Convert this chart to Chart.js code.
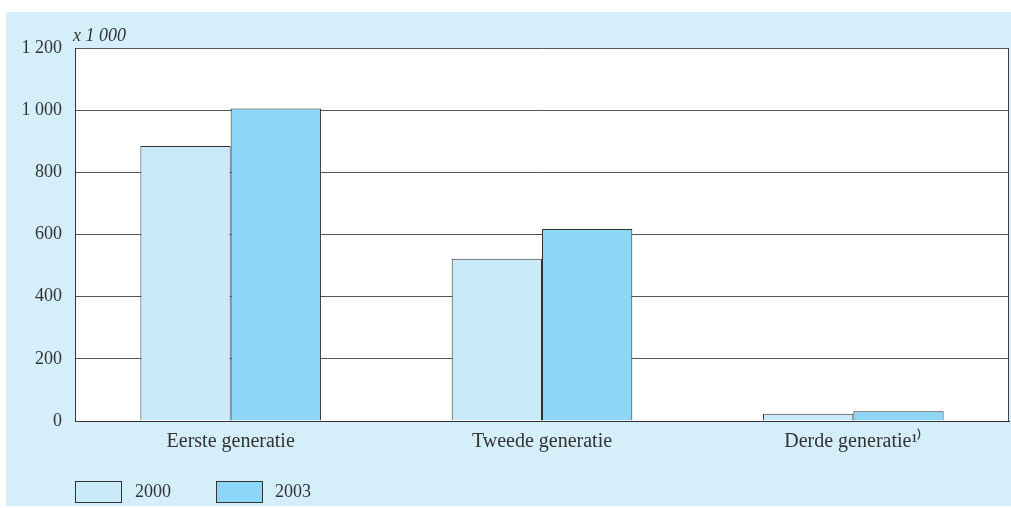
<!DOCTYPE html>
<html>
<head>
<meta charset="utf-8">
<script src="https://cdn.jsdelivr.net/npm/chart.js@4"></script>
<style>
html,body{margin:0;padding:0;background:#fff;}
canvas{display:block;}
</style>
</head>
<body>
<canvas id="c" width="1011" height="508"></canvas>
<script>
const categories = ["Eerste generatie", "Tweede generatie", "Derde generatie¹⁾"];
const values2000 = [885, 522, 23];
const values2003 = [1005, 618, 31];
const seriesNames = ["2000", "2003"];
const unitLabel = "x 1 000";
const colors = ["#c9eaf9", "#8dd6f7"];
const FONT = "'Liberation Serif', serif";

const panelPlugin = {
  id: 'panel',
  beforeDraw(chart) {
    const ctx = chart.ctx, a = chart.chartArea;
    ctx.save();
    ctx.fillStyle = '#d4eefa';
    ctx.fillRect(6, 12, 1011 - 6, 506 - 12);
    ctx.fillStyle = '#ffffff';
    ctx.fillRect(a.left, a.top, a.right - a.left, a.bottom - a.top);
    ctx.restore();
  },
  afterDraw(chart) {
    const ctx = chart.ctx, a = chart.chartArea;
    ctx.save();
    ctx.strokeStyle = '#444';
    ctx.lineWidth = 1;
    ctx.beginPath();
    ctx.moveTo(Math.round(a.right) - 0.5, a.top);
    ctx.lineTo(Math.round(a.right) - 0.5, a.bottom);
    ctx.stroke();
    // unit label
    ctx.fillStyle = '#333';
    ctx.font = "italic 18px " + FONT;
    ctx.textBaseline = 'alphabetic';
    ctx.textAlign = 'left';
    ctx.fillText(unitLabel, a.left - 2, 41);
    // legend
    const items = [{x: 75, tx: 135}, {x: 216, tx: 275}];
    ctx.font = "18px " + FONT;
    ctx.textBaseline = 'middle';
    chart.data.datasets.forEach((ds, i) => {
      const it = items[i];
      ctx.fillStyle = ds.backgroundColor;
      ctx.fillRect(it.x, 481, 46, 21);
      ctx.strokeStyle = '#333';
      ctx.strokeRect(it.x + 0.5, 481.5, 46, 21);
      ctx.fillStyle = '#333';
      ctx.fillText(ds.label, it.tx, 492);
    });
    ctx.restore();
  }
};

new Chart(document.getElementById('c'), {
  type: 'bar',
  data: {
    labels: categories,
    datasets: [
      {label: seriesNames[0], data: values2000, backgroundColor: colors[0], borderColor: '#333', borderWidth: 1},
      {label: seriesNames[1], data: values2003, backgroundColor: colors[1], borderColor: '#333', borderWidth: 1}
    ]
  },
  options: {
    responsive: false,
    animation: false,
    layout: {padding: {left: 0, right: 2, top: 48, bottom: 0}},
    datasets: {bar: {barPercentage: 1, categoryPercentage: 0.58}},
    plugins: {legend: {display: false}, tooltip: {enabled: false}},
    scales: {
      x: {
        afterFit(s) { s.height = 87; },
        grid: {display: false},
        border: {display: true, color: '#333', width: 1},
        ticks: {color: '#333', font: {family: FONT, size: 20}, padding: 1}
      },
      y: {
        min: 0, max: 1200,
        afterFit(s) { s.width = 75; },
        grid: {color: '#555', lineWidth: 1, drawTicks: false},
        border: {display: true, color: '#333', width: 1},
        ticks: {
          stepSize: 200, color: '#333', padding: 13,
          font: {family: FONT, size: 18},
          callback: v => String(v).replace(/\B(?=(\d{3})+(?!\d))/g, ' ')
        }
      }
    }
  },
  plugins: [panelPlugin]
});
</script>
</body>
</html>
